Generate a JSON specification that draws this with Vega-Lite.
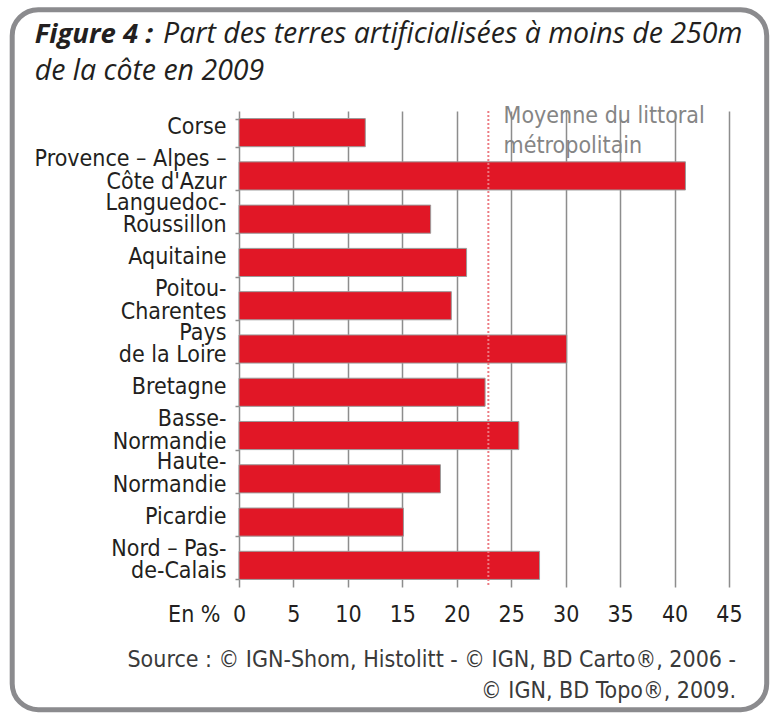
{
  "$schema": "https://vega.github.io/schema/vega-lite/v6.json",
  "width": 490,
  "height": 476,
  "autosize": {"type": "none"},
  "padding": {"left": 239, "top": 111, "right": 45, "bottom": 129},
  "background": "white",
  "config": {
    "view": {"stroke": null},
    "font": "Liberation Sans Narrow, DejaVu Sans Condensed, Roboto Condensed, Arial Narrow, sans-serif"
  },
  "title": {
    "text": ["Source : © IGN-Shom, Histolitt - © IGN, BD Carto®, 2006 -", "© IGN, BD Topo®, 2009."],
    "orient": "bottom",
    "anchor": "end",
    "align": "right",
    "frame": "group",
    "dx": 7,
    "offset": -63,
    "font": "Liberation Sans Narrow, DejaVu Sans Condensed, Roboto Condensed, Arial Narrow, sans-serif",
    "fontSize": 23,
    "fontWeight": "normal",
    "color": "#3a3a3a",
    "lineHeight": 31
  },
  "datasets": {
    "regions": [
      {"region": "Corse", "part": 11.6},
      {"region": "Provence – Alpes –|Côte d'Azur", "part": 41.0},
      {"region": "Languedoc-|Roussillon", "part": 17.6},
      {"region": "Aquitaine", "part": 20.9},
      {"region": "Poitou-|Charentes", "part": 19.5},
      {"region": "Pays|de la Loire", "part": 30.1},
      {"region": "Bretagne", "part": 22.6},
      {"region": "Basse-|Normandie", "part": 25.7},
      {"region": "Haute-|Normandie", "part": 18.5},
      {"region": "Picardie", "part": 15.1},
      {"region": "Nord – Pas-|de-Calais", "part": 27.6}
    ]
  },
  "layer": [
    {
      "data": {"values": [{}]},
      "mark": {"type": "rect", "x": -226.8, "x2": 527.7, "y": -101.3, "y2": 598.7, "fill": null, "stroke": "#8b8b8e", "strokeWidth": 5, "cornerRadius": 26},
      "encoding": {}
    },
    {
      "data": {"name": "regions"},
      "mark": {"type": "bar", "fill": "#e11726", "stroke": "#9a9a9a", "strokeWidth": 1},
      "encoding": {
        "y": {
          "field": "region",
          "type": "nominal",
          "sort": null,
          "scale": {"paddingInner": 0.35, "paddingOuter": 0.175},
          "axis": {
            "title": null,
            "domain": false,
            "grid": false,
            "ticks": true,
            "tickBand": "extent",
            "tickSize": 4,
            "tickColor": "#8d8d8d",
            "tickWidth": 1.5,
            "labelFontSize": 23,
            "labelColor": "#231f20",
            "labelLineHeight": 22.5,
            "labelBaseline": "middle",
            "labelOffset": {"condition": {"test": "isValid(datum.value) && indexof(datum.value, '|') >= 0", "value": -17}, "value": -6},
            "labelPadding": 9,
            "labelLimit": 300,
            "labelExpr": "isValid(datum.value) ? split(datum.value, '|') : ''"
          }
        },
        "x": {
          "field": "part",
          "type": "quantitative",
          "scale": {"domain": [0, 45], "nice": false},
          "axis": {
            "values": [0, 5, 10, 15, 20, 25, 30, 35, 40, 45],
            "grid": true,
            "gridColor": "#8d8d8d",
            "gridWidth": 1.5,
            "domain": false,
            "ticks": false,
            "tickSize": 0,
            "labelFlush": false,
            "labelFontSize": 23,
            "labelColor": "#231f20",
            "labelBaseline": "alphabetic",
            "labelPadding": 34,
            "title": "En %",
            "titleX": -19,
            "titleY": 34,
            "titleAlign": "right",
            "titleAnchor": null,
            "titleBaseline": "alphabetic",
            "titleFontWeight": "normal",
            "titleFontSize": 23,
            "titleColor": "#231f20"
          }
        }
      }
    },
    {
      "data": {"values": [{}]},
      "mark": {"type": "rule", "color": "#ec7b82", "strokeWidth": 2, "strokeDash": [2, 2]},
      "encoding": {"x": {"datum": 22.9, "type": "quantitative"}}
    },
    {
      "data": {"values": [{}]},
      "mark": {"type": "text", "text": ["Moyenne du littoral", "métropolitain"], "align": "left", "baseline": "alphabetic", "fontSize": 23, "lineHeight": 30, "color": "#858585", "dy": -10},
      "encoding": {
        "x": {"datum": 24.3, "type": "quantitative"},
        "y": {"datum": "Corse", "type": "nominal"}
      }
    },
    {
      "data": {"values": [{}]},
      "mark": {"type": "text", "text": "Figure 4 :", "x": -204.3, "y": -68, "align": "left", "baseline": "alphabetic", "font": "Open Sans", "fontSize": 27.5, "fontStyle": "italic", "fontWeight": "bold", "color": "#231f20"},
      "encoding": {}
    },
    {
      "data": {"values": [{}]},
      "mark": {"type": "rule", "x": -204.3, "x2": -84.3, "y": -62, "y2": -62, "stroke": "#231f20", "strokeWidth": 2.5},
      "encoding": {}
    },
    {
      "data": {"values": [{}]},
      "mark": {"type": "text", "text": "Part des terres artificialisées à moins de 250m", "x": -76, "y": -68, "align": "left", "baseline": "alphabetic", "font": "Open Sans", "fontSize": 28.5, "fontStyle": "italic", "color": "#231f20"},
      "encoding": {}
    },
    {
      "data": {"values": [{}]},
      "mark": {"type": "text", "text": "de la côte en 2009", "x": -204.3, "y": -30.6, "align": "left", "baseline": "alphabetic", "font": "Open Sans", "fontSize": 28.5, "fontStyle": "italic", "color": "#231f20"},
      "encoding": {}
    }
  ]
}
